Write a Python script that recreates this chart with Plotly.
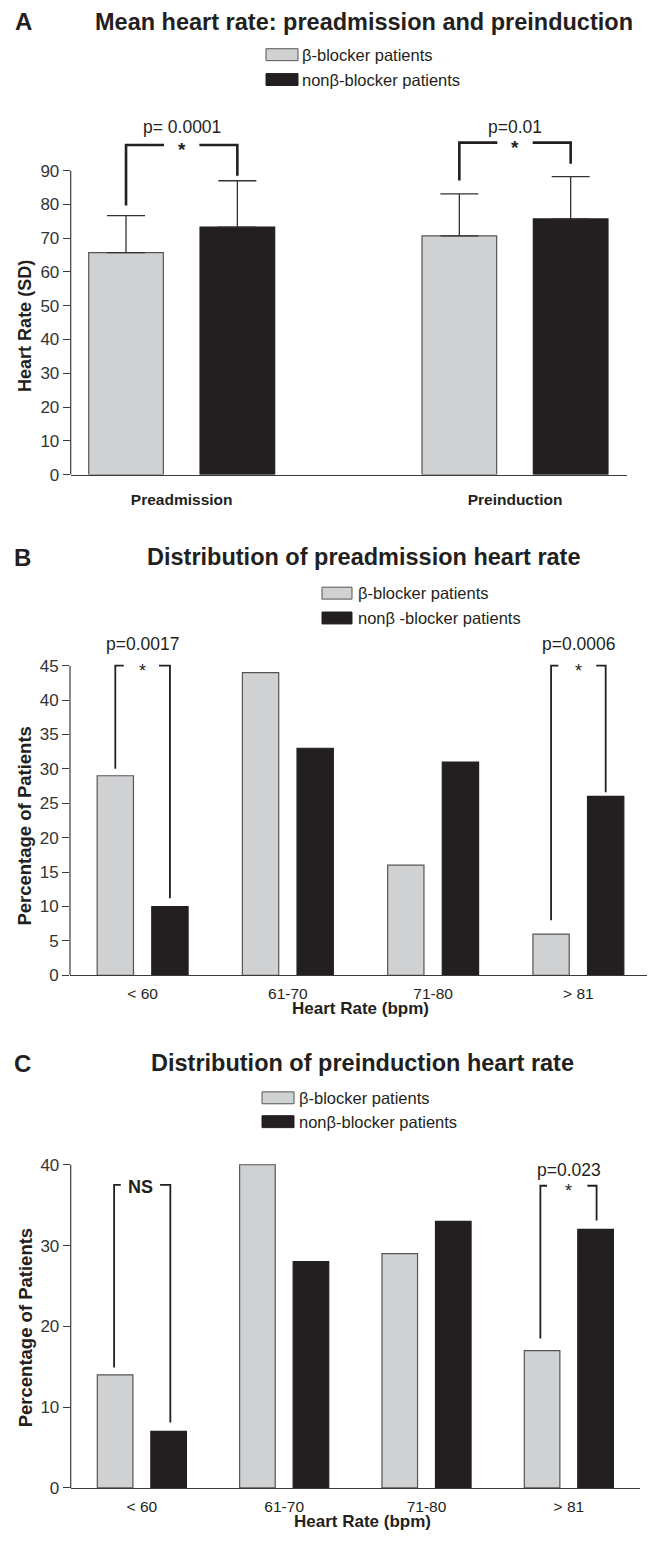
import plotly.graph_objects as go

# reference canvas is 655x1543; the page body adds an 8px margin on every side, so the
# figure is drawn 16px smaller in both directions and every reference pixel position
# is shifted by -8 to land on the same page pixel.
REF_W, REF_H = 655, 1543
OFF = 8
W, H = REF_W - 2 * OFF, REF_H - 2 * OFF

# ---------------- data ----------------
groups = ["β-blocker patients", "nonβ-blocker patients"]
groups_b = ["β-blocker patients", "nonβ -blocker patients"]
a_categories = ["Preadmission", "Preinduction"]
a_beta_mean = [65.7, 70.7]
a_beta_sd = [11.0, 12.4]
a_non_mean = [73.3, 75.7]
a_non_sd = [13.7, 12.5]

hr_bins = ["< 60", "61-70", "71-80", "> 81"]
b_beta = [29, 44, 16, 6]
b_non = [10, 33, 31, 26]
c_beta = [14, 40, 29, 17]
c_non = [7, 28, 33, 32]

a_yticks = [0, 10, 20, 30, 40, 50, 60, 70, 80, 90]
b_yticks = [0, 5, 10, 15, 20, 25, 30, 35, 40, 45]
c_yticks = [0, 10, 20, 30, 40]

# ---------------- style ----------------
FONT = "Liberation Sans, Arial, Helvetica, sans-serif"
TXT = "#231f20"
AX = "#3a3a3a"
GRAY = "#d0d1d3"
BLACK = "#231f20"
EDGE = "#555555"


def px_x(p):
    return min(1.0, (p - OFF) / W)


def px_y(p):
    return 1 - (p - OFF) / H


fig = go.Figure()

# bar geometry (in category units)
A_W, A_OFF = 0.224, 0.167
BC_W, BC_OFF = 0.25, 0.188

# ---- Panel A ----
ax = list(range(len(a_categories)))
fig.add_trace(go.Bar(x=ax, y=a_beta_mean, width=A_W, offset=-A_OFF - A_W / 2,
                     marker=dict(color=GRAY, line=dict(color=EDGE, width=1.2)),
                     error_y=dict(type="data", array=a_beta_sd, arrayminus=[0] * 2, symmetric=False,
                                  color="#333333", thickness=1.3, width=19),
                     xaxis="x", yaxis="y", showlegend=False))
fig.add_trace(go.Bar(x=ax, y=a_non_mean, width=A_W, offset=A_OFF - A_W / 2,
                     marker=dict(color=BLACK, line=dict(color=BLACK, width=1.2)),
                     error_y=dict(type="data", array=a_non_sd, arrayminus=[0] * 2, symmetric=False,
                                  color="#333333", thickness=1.3, width=19),
                     xaxis="x", yaxis="y", showlegend=False))

# ---- Panel B ----
bx = list(range(len(hr_bins)))
fig.add_trace(go.Bar(x=bx, y=b_beta, width=BC_W, offset=-BC_OFF - BC_W / 2,
                     marker=dict(color=GRAY, line=dict(color=EDGE, width=1.2)),
                     xaxis="x2", yaxis="y2", showlegend=False))
fig.add_trace(go.Bar(x=bx, y=b_non, width=BC_W, offset=BC_OFF - BC_W / 2,
                     marker=dict(color=BLACK, line=dict(color=BLACK, width=1.2)),
                     xaxis="x2", yaxis="y2", showlegend=False))

# ---- Panel C ----
fig.add_trace(go.Bar(x=bx, y=c_beta, width=BC_W, offset=-BC_OFF - BC_W / 2,
                     marker=dict(color=GRAY, line=dict(color=EDGE, width=1.2)),
                     xaxis="x3", yaxis="y3", showlegend=False))
fig.add_trace(go.Bar(x=bx, y=c_non, width=BC_W, offset=BC_OFF - BC_W / 2,
                     marker=dict(color=BLACK, line=dict(color=BLACK, width=1.2)),
                     xaxis="x3", yaxis="y3", showlegend=False))

tickfont = dict(family=FONT, size=17, color="#333333")


def xaxis_cfg(domain, rng, ticktext, bold=False, standoff=3):
    return dict(domain=domain, range=rng, tickmode="array", tickvals=list(range(len(ticktext))),
                ticktext=[f"<b>{t}</b>" for t in ticktext] if bold else ticktext,
                showline=True, linecolor=AX, linewidth=1.2, ticks="", showgrid=False,
                zeroline=False, tickfont=dict(family=FONT, size=15.5, color=TXT),
                ticklabelstandoff=standoff, fixedrange=True)


def yaxis_cfg(domain, rng, tickvals, anchor):
    return dict(domain=domain, range=rng, tickmode="array", tickvals=tickvals,
                showline=False, ticks="outside", ticklen=7, tickwidth=1.2, tickcolor=AX,
                showgrid=False, zeroline=False, tickfont=tickfont, anchor=anchor, fixedrange=True)


# B x axis runs to ref px 651, beyond the drawable width; keep its scale by
# extending the range proportionally when the domain is clipped.
b_x0, b_x1 = 70.0, 651.0
b_unit = (b_x1 - b_x0) / 4.0
b_right = min(b_x1, OFF + W)
b_range = [-0.5, -0.5 + (b_right - b_x0) / b_unit]

# y scales (reference px per unit): A 3.4, B 6.927, C 8.133
fig.update_layout(
    width=W, height=H,
    margin=dict(l=0, r=0, t=0, b=0),
    paper_bgcolor="white", plot_bgcolor="rgba(0,0,0,0)",
    barmode="overlay",
    xaxis=dict(**xaxis_cfg([px_x(70.7), px_x(627)], [-0.333, 1.336], a_categories, bold=True, standoff=11), anchor="y"),
    yaxis=yaxis_cfg([px_y(477.7), px_y(477.7 - 108 * 3.4)], [0, 108], a_yticks, "x"),
    xaxis2=dict(**xaxis_cfg([px_x(b_x0), px_x(b_right)], b_range, hr_bins, standoff=4), anchor="y2"),
    yaxis2=yaxis_cfg([px_y(981.7), px_y(981.7 - 50 * 6.927)], [0, 50], b_yticks, "x2"),
    xaxis3=dict(**xaxis_cfg([px_x(70.7), px_x(640)], [-0.5, 3.5], hr_bins, standoff=4), anchor="y3"),
    yaxis3=yaxis_cfg([px_y(1497.7), px_y(1497.7 - 43 * 8.133)], [0, 43], c_yticks, "x3"),
    showlegend=False,
)

shapes = []
annotations = []

# y-axis lines (only up to the top tick)
for xr, yr, top in [("x", "y", 90), ("x2", "y2", 45), ("x3", "y3", 40)]:
    shapes.append(dict(type="line", xref=f"{xr} domain", yref=yr, x0=0, x1=0, y0=0, y1=top,
                       line=dict(color=AX, width=1.2)))


def bracket(xr, yr, xc, dl, dr, top, ybl, ybr, seg_l, seg_r, width):
    xl, xrr = xc - dl, xc + dr
    shapes.append(dict(type="path", xref=xr, yref=yr,
                       path=f"M{xl},{ybl} L{xl},{top} L{xl + seg_l},{top}",
                       line=dict(color=BLACK, width=width)))
    shapes.append(dict(type="path", xref=xr, yref=yr,
                       path=f"M{xrr - seg_r},{top} L{xrr},{top} L{xrr},{ybr}",
                       line=dict(color=BLACK, width=width)))


def note(xr, yr, x, y, text, size=16, bold=False, yshift=0):
    annotations.append(dict(xref=xr, yref=yr, x=x, y=y, text=f"<b>{text}</b>" if bold else text,
                            showarrow=False, yshift=yshift,
                            font=dict(family=FONT, size=size, color=TXT)))


# Panel A brackets
bracket("x", "y", 0, A_OFF, A_OFF, 97.6, 79.7, 88.5, 0.114, 0.114, 2.6)
note("x", "y", 0, 97.6, "*", size=19, bold=True, yshift=-5)
note("x", "y", 0, 102.9, "p= 0.0001", size=17.5)
bracket("x", "y", 1, A_OFF, A_OFF, 98.3, 87.1, 92.0, 0.114, 0.114, 2.6)
note("x", "y", 1, 98.3, "*", size=19, bold=True, yshift=-5)
note("x", "y", 1, 102.9, "p=0.01", size=17.5)

# Panel B brackets
bracket("x2", "y2", 0, BC_OFF, BC_OFF, 45.0, 30.0, 11.2, 0.058, 0.075, 1.8)
note("x2", "y2", 0, 45.0, "*", size=18, yshift=-5)
note("x2", "y2", 0, 48.2, "p=0.0017", size=17.5)
bracket("x2", "y2", 3, BC_OFF, BC_OFF, 45.0, 8.0, 26.6, 0.05, 0.065, 1.8)
note("x2", "y2", 3, 45.0, "*", size=18, yshift=-5)
note("x2", "y2", 3, 48.2, "p=0.0006", size=17.5)

# Panel C brackets
bracket("x3", "y3", 0, 0.195, 0.2, 37.5, 14.9, 8.1, 0.047, 0.072, 1.8)
note("x3", "y3", -0.01, 37.3, "NS", size=18, bold=True)
bracket("x3", "y3", 3, 0.2, 0.195, 37.4, 18.5, 33.1, 0.047, 0.065, 1.8)
note("x3", "y3", 3, 37.4, "*", size=18, yshift=-5)
note("x3", "y3", 3, 39.4, "p=0.023", size=17.5)


def paper_text(xp, yp, text, size, bold=False, xanchor="center", angle=0):
    annotations.append(dict(xref="paper", yref="paper", x=px_x(xp), y=px_y(yp),
                            text=f"<b>{text}</b>" if bold else text, showarrow=False,
                            xanchor=xanchor, yanchor="middle", textangle=angle,
                            font=dict(family=FONT, size=size, color=TXT)))


# panel letters and titles
paper_text(23, 22, "A", 24, bold=True)
paper_text(364, 22, "Mean heart rate: preadmission and preinduction", 23.5, bold=True)
paper_text(22, 561, "B", 24, bold=True)
paper_text(364, 561, "Distribution of preadmission heart rate", 23.5, bold=True)
paper_text(22, 1070, "C", 24, bold=True)
paper_text(362, 1070, "Distribution of preinduction heart rate", 23.5, bold=True)

# axis titles
paper_text(25, 328, "Heart Rate (SD)", 18, bold=True, angle=-90)
paper_text(25, 832, "Percentage of Patients", 18.5, bold=True, angle=-90)
paper_text(25, 1337, "Percentage of Patients", 18.5, bold=True, angle=-90)
paper_text(360, 1015, "Heart Rate (bpm)", 17, bold=True)
paper_text(362, 1531, "Heart Rate (bpm)", 17, bold=True)


# manual legends
def legend(x0, x1, y_rows, text_x, labels):
    fills = [GRAY, BLACK]
    edges = [EDGE, BLACK]
    for yc, lab, f, e in zip(y_rows, labels, fills, edges):
        shapes.append(dict(type="rect", xref="paper", yref="paper",
                           x0=px_x(x0), x1=px_x(x1), y0=px_y(yc + 6), y1=px_y(yc - 6),
                           fillcolor=f, line=dict(color=e, width=1)))
        paper_text(text_x, yc, lab, 16.5, xanchor="left")


legend(266, 298, [55, 80], 300, groups)
legend(322, 352, [597, 622], 356, groups_b)
legend(262, 294, [1105, 1129], 297, groups)

fig.update_layout(shapes=shapes, annotations=annotations)
fig.write_html("out.html")
